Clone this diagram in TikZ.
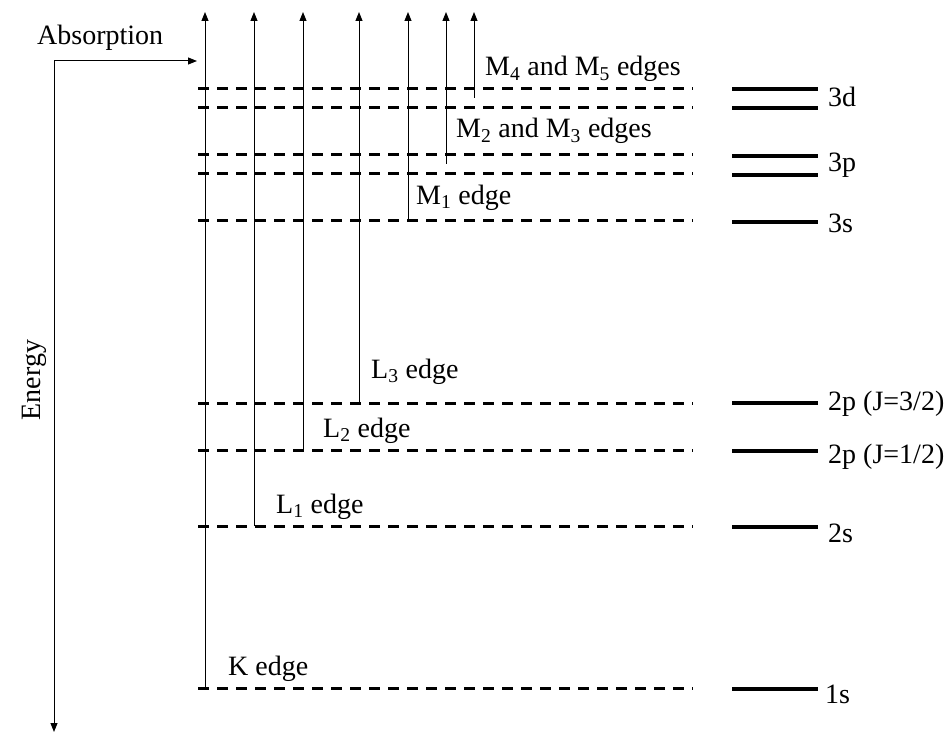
\documentclass[tikz,border=0pt]{standalone}
\usepackage{fontspec}
\setmainfont{Liberation Serif}
\usetikzlibrary{arrows.meta}
\begin{document}
\begin{tikzpicture}[x=1bp,y=-1bp,
  lbl/.style={font=\fontsize{28bp}{32bp}\selectfont, inner sep=0pt, anchor=base west},
  dashlvl/.style={line width=3bp, dash pattern=on 11bp off 8bp},
  lvl/.style={line width=4bp},
  exc/.style={line width=1bp, -{Triangle[length=9bp,width=7bp]}}]
\useasboundingbox (0,0) rectangle (949,733);

% dashed levels (left)
\foreach \n/\y in {d1/89,d2/108,p1/155,p2/173,s3/220,j3/403,j1/450,s2/526,s1/688}{
  \coordinate (L\n) at (198,\y);
  \coordinate (R\n) at (693,\y);
  \draw[dashlvl] (L\n) -- (R\n);
}
% solid levels (right)
\foreach \n/\y in {d1/89,d2/108,p1/156,p2/175,s3/222,j3/403,j1/451,s2/527,s1/689}{
  \coordinate (A\n) at (732,\y);
  \coordinate (B\n) at (818,\y);
  \draw[lvl] (A\n) -- (B\n);
}
% level labels
\node[lbl] (t3d) at (828,107) {3d};
\node[lbl] (t3p) at (828,172) {3p};
\node[lbl] (t3s) at (828,232) {3s};
\node[lbl] (tj3) at (828,410) {2p (J=3/2)};
\node[lbl] (tj1) at (828,463) {2p (J=1/2)};
\node[lbl] (t2s) at (828,542) {2s};
\node[lbl] (t1s) at (825,703) {1s};

% excitation arrows
\foreach \n/\x/\yb in {k/205/688,la/254/526,lb/303/450,lc/359/403,ma/408/220,mb/446/164,mc/474/98}{
  \coordinate (b\n) at (\x,\yb);
  \coordinate (t\n) at (\x,12);
  \draw[exc] (b\n) -- (t\n);
}

% edge labels
\node[lbl] (ek) at (228,675) {K edge};
\node[lbl] (el1) at (276,513) {L\textsubscript{1} edge};
\node[lbl] (el2) at (323,437) {L\textsubscript{2} edge};
\node[lbl] (el3) at (371,378) {L\textsubscript{3} edge};
\node[lbl] (em1) at (416,204) {M\textsubscript{1} edge};
\node[lbl] (em2) at (456,138) {M\textsubscript{2} and M\textsubscript{3} edges};
\node[lbl] (em4) at (485,76) {M\textsubscript{4} and M\textsubscript{5} edges};

% axis
\node[lbl] (abs) at (37,45) {Absorption};
\coordinate (corner) at (54,61);
\coordinate (absend) at (197,61);
\coordinate (enend) at (54,732);
\draw[exc] (corner) -- (absend);
\draw[exc] (corner) -- (enend);
\node[lbl, anchor=base, rotate=90] (energy) at (40,380) {Energy};
\end{tikzpicture}
\end{document}
